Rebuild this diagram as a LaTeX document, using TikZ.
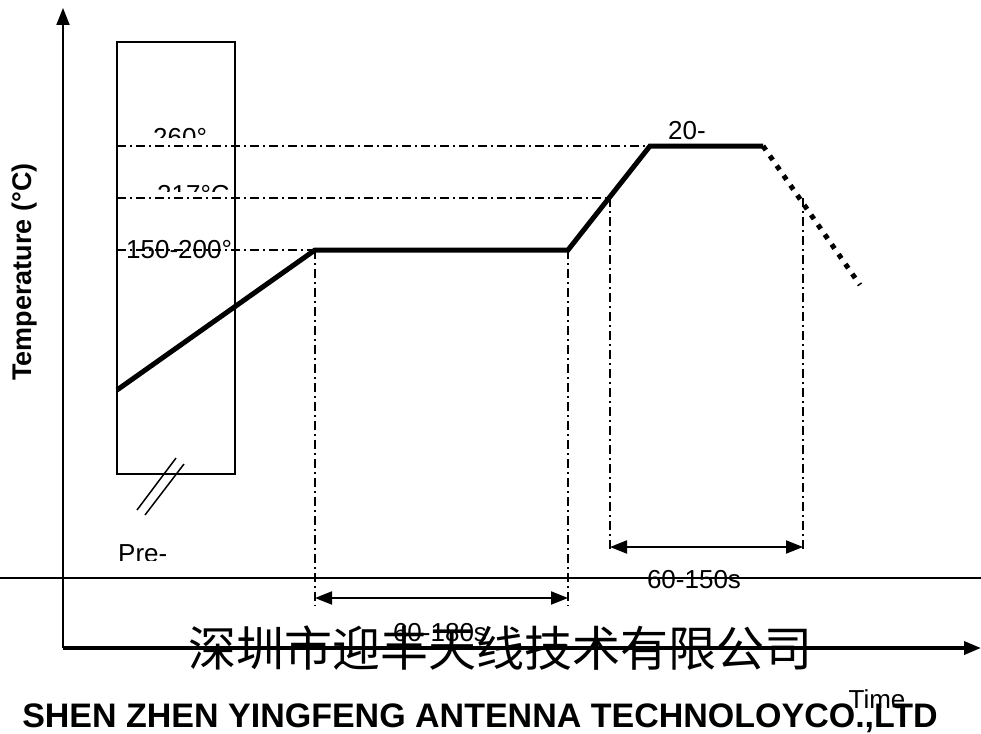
\documentclass[tikz,border=0pt]{standalone}
\usepackage{fontspec}
\setmainfont{Liberation Sans}
\newfontfamily\cjkfont{Noto Sans CJK SC}
\usetikzlibrary{arrows.meta}
\tikzset{
  axisline/.style={line width=#1,-{Triangle[length=17pt,width=13pt]}},
  guide/.style={line width=1.3pt,dash pattern=on 9pt off 4pt on 2pt off 4pt},
  profile/.style={line width=5pt},
  spanarrow/.style={line width=2pt,{Triangle[length=17pt,width=13pt]}-{Triangle[length=17pt,width=13pt]}},
  lbl/.style={inner sep=0pt,anchor=base,font=\fontsize{26}{26}\selectfont},
}
\begin{document}
\begin{tikzpicture}[x=1pt,y=-1pt]
    \useasboundingbox (0,0) rectangle (981,733);
    % axes
    \coordinate (origin) at (63,648);
    \coordinate (ytop) at (63,8);
    \coordinate (xend) at (981,648);
    \draw[axisline=2pt] (origin) -- (ytop);
    \draw[axisline=3.5pt] (origin) -- (xend);
    \coordinate (base l) at (0,578);
    \coordinate (base r) at (981,578);
    \draw[line width=1.5pt] (base l) -- (base r);

    % preheat box and break mark
    \draw[line width=1.8pt] (117,42) rectangle (235,474);
    \draw[line width=1.5pt] (137,510) -- (176,458);
    \draw[line width=1.5pt] (145,515) -- (184,464);

    % profile points
    \coordinate (p0) at (117,390);
    \coordinate (p1) at (315,250);
    \coordinate (p2) at (568,250);
    \coordinate (p3) at (650,146);
    \coordinate (p4) at (763,146);
    \coordinate (p5) at (860,285);
    \coordinate (q1) at (610,198);
    \coordinate (q2) at (803,198);

    % guide lines
    \draw[guide] (117,146) -- (p3);
    \draw[guide] (117,198) -- (q1);
    \draw[guide] (117,250) -- (p1);
    \draw[guide] (p1) -- (315,606);
    \draw[guide] (p2) -- (568,606);
    \draw[guide] (q1) -- (610,552);
    \draw[guide] (q2) -- (803,552);

    \draw[profile] (p0) -- (p1) -- (p2) -- (p3) -- (p4);
    \draw[profile,dash pattern=on 5pt off 7pt] (p4) -- (p5);

    % durations
    \coordinate (a1) at (315,598);
    \coordinate (a2) at (568,598);
    \coordinate (b1) at (610,547);
    \coordinate (b2) at (803,547);
    \draw[spanarrow] (a1) -- (a2);
    \draw[spanarrow] (b1) -- (b2);

    % labels (cut at the top like the source)
    \begin{scope}
      \clip (140,100) rectangle (240,137);
      \node[lbl,anchor=base west] (t260) at (153,146) {260°};
    \end{scope}
    \begin{scope}
      \clip (140,170) rectangle (240,191);
      \node[lbl,anchor=base west] (t217) at (157,203) {217°C};
    \end{scope}
    \node[lbl,anchor=base west] (t150) at (126,258) {150-200°};
    \node[lbl] (t20) at (687,139) {20-};
    \begin{scope}
      \clip (100,530) rectangle (200,560);
      \node[lbl,anchor=base west] (tpre) at (118,562) {Pre-};
    \end{scope}
    \node[lbl] (t180) at (440,641) {60-180s};
    \node[lbl] (t150s) at (694,588) {60-150s};
    \node[lbl] (ttime) at (877,708) {Time};
    \node[inner sep=0pt,rotate=90,font=\fontsize{27}{27}\selectfont\bfseries] (ylabel) at (25,272) {Temperature (°C)};

    % company
    \node[inner sep=0pt,font=\fontsize{48}{48}\selectfont\cjkfont] (cn) at (500,648) {深圳市迎丰天线技术有限公司};
    \node[inner sep=0pt,anchor=base,font=\fontsize{34}{34}\selectfont\bfseries] (en) at (480,727) {SHEN ZHEN YINGFENG ANTENNA TECHNOLOYCO.,LTD};
\end{tikzpicture}
\end{document}
